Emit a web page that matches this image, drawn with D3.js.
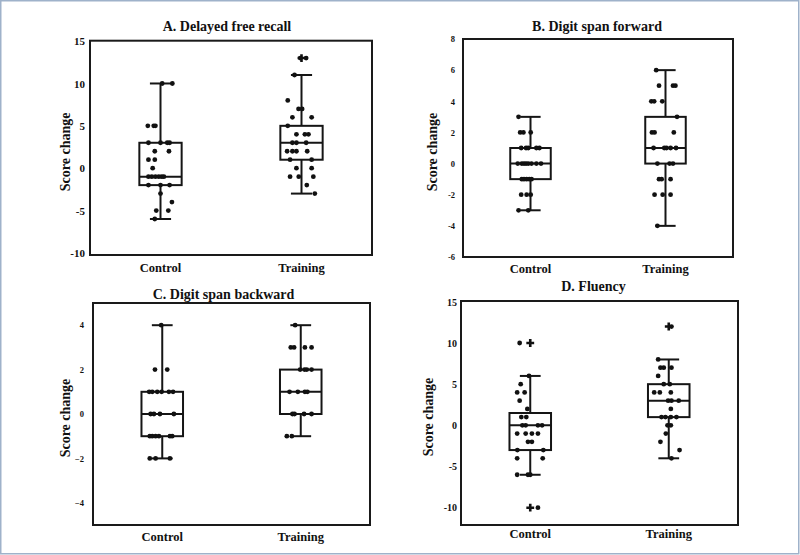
<!DOCTYPE html>
<html>
<head>
<meta charset="utf-8">
<script src="https://cdn.jsdelivr.net/npm/d3@7"></script>
<style>
  body { margin: 0; background: #fff; }
  svg text { font-family: "Liberation Serif", "Times New Roman", serif; font-weight: bold; fill: #111; }
</style>
</head>
<body>
<div id="chart"></div>
<script>
const groups = ["Control", "Training"];

// [score change, horizontal jitter as a fraction of half the box width]
const recallControl = [
  [10, 0.08], [10, 0.56], [5, -0.6], [5, -0.32], [5, -0.24],
  [3, -0.57], [3, 0], [3, 0.32], [3, 0.43], [2, -0.27], [2, 0.4],
  [1, -0.57], [1, -0.27], [0, -0.37],
  [-1, -0.57], [-1, -0.41], [-1, -0.24], [-1, -0.08], [-1, 0.06], [-1, 0.16],
  [-2, -0.57], [-2, 0], [-2, 0.43], [-3, 0], [-4, 0.54], [-5, -0.2], [-5, 0.37], [-6, -0.27]
];
const recallTraining = [
  [13, -0.06], [13, 0.22], [11, -0.33], [8, -0.65], [7, -0.14], [7, 0.03],
  [6, -0.43], [6, 0.48], [5, -0.65], [4, -0.24], [4, 0.16], [4, 0.33],
  [3, -0.43], [3, -0.24], [3, 0.22], [2, -0.68], [2, -0.43], [2, -0.24], [2, 0.27],
  [1, -0.54], [1, 0.48], [0, -0.24], [0, 0.48],
  [-1, -0.54], [-1, -0.13], [-1, 0.56], [-2, 0.25], [-3, 0.63]
];
const forwardControl = [
  [3, -0.59], [2, -0.51], [2, -0.35], [2, 0.01],
  [1, -0.46], [1, -0.22], [1, -0.11], [1, 0.29], [1, 0.44],
  [0, -0.63], [0, -0.43], [0, -0.32], [0, -0.22], [0, -0.11], [0, 0.05], [0, 0.29], [0, 0.52],
  [-1, -0.43], [-1, -0.32], [-1, -0.19], [-1, -0.06], [-1, 0.05],
  [-2, -0.46], [-2, -0.19], [-2, 0.01], [-3, -0.59], [-3, -0.11]
];
const forwardTraining = [
  [6, -0.46], [5, -0.32], [5, 0.37], [5, 0.49], [4, -0.7], [4, -0.56], [4, -0.16],
  [3, 0.57], [2, -0.67], [2, -0.54], [2, 0.41],
  [1, -0.59], [1, -0.06], [1, 0.05], [1, 0.25], [1, 0.52],
  [0, -0.4], [0, 0.2], [0, 0.37], [-1, -0.32], [-1, -0.19], [-1, 0.25],
  [-2, -0.54], [-2, -0.14], [-2, 0.25], [-4, -0.4]
];
const backwardControl = [
  [4, -0.05], [2, -0.35], [2, 0.24],
  [1, -0.63], [1, -0.48], [1, -0.24], [1, -0.03], [1, 0.32], [1, 0.52],
  [0, -0.56], [0, -0.4], [0, -0.11], [0, 0.56],
  [-1, -0.6], [-1, -0.48], [-1, -0.32], [-1, -0.16], [-1, 0.37], [-1, 0.48],
  [-2, -0.6], [-2, -0.32], [-2, 0.37]
];
const backwardTraining = [
  [4, -0.27], [3, -0.48], [3, -0.32], [3, 0.2], [3, 0.52],
  [2, -0.03], [2, 0.18], [2, 0.29], [2, 0.52],
  [1, -0.54], [1, -0.14], [1, 0.2], [1, 0.32],
  [0, -0.4], [0, -0.3], [0, 0.16], [0, 0.52], [-1, -0.67], [-1, -0.43]
];
const fluencyControl = [
  [10, -0.51], [6, -0.06], [5, -0.46], [4, -0.63], [4, -0.27], [3, -0.51], [2, -0.14],
  [1, -0.43], [1, -0.19], [0, -0.38], [0, -0.22], [0, 0.37], [0, 0.57],
  [-1, -0.63], [-1, -0.22], [-1, 0.08], [-1, 0.37], [-2, -0.11], [-2, 0.08],
  [-3, -0.62], [-3, 0.63], [-4, -0.63], [-4, 0.6],
  [-6, -0.63], [-6, -0.11], [-6, 0], [-10, 0.37]
];
const fluencyTraining = [
  [12, 0.13], [8, -0.51], [7, -0.4], [7, -0.24], [7, 0.13], [6, -0.51],
  [5, -0.24], [5, 0.05], [4, -0.7], [4, -0.43], [4, 0.1],
  [3, -0.03], [3, 0.13], [3, 0.48], [2, 0.1],
  [1, -0.35], [1, -0.16], [1, 0.1], [1, 0.37], [0, -0.06], [0, 0.1],
  [-1, -0.14], [-2, -0.4], [-3, 0.52], [-4, 0.13]
];

// box statistics per group: [lower whisker, q1, median, q3, upper whisker]
const recallBoxes = [[-6, -2, -1, 3, 10], [-3, 1, 3, 5, 11]];
const forwardBoxes = [[-3, -1, 0, 1, 3], [-4, 0, 1, 3, 6]];
const backwardBoxes = [[-2, -1, 0, 1, 4], [-1, 0, 1, 2, 4]];
const fluencyBoxes = [[-6, -3, 0, 1.5, 6], [-4, 1, 3, 5, 8]];

// outliers drawn with "+" markers
const recallOutliers = [[], [13]];
const forwardOutliers = [[], []];
const backwardOutliers = [[], []];
const fluencyOutliers = [[10, -10], [12]];

const recallTicks = [-10, -5, 0, 5, 10, 15];
const forwardTicks = [-6, -4, -2, 0, 2, 4, 6, 8];
const backwardTicks = [-4, -2, 0, 2, 4];
const fluencyTicks = [-10, -5, 0, 5, 10, 15];

const hyphen = d => String(d);
const minus = d => String(d).replace("-", "\u2212");

const panels = [
  { title: "A. Delayed free recall", points: [recallControl, recallTraining], boxes: recallBoxes,
    outliers: recallOutliers, ticks: recallTicks, fmt: hyphen, domain: [-10.25, 15.05],
    x0: 90, x1: 372, y0: 40.7, y1: 255, tickFont: 11, tickPad: 5, titleY: 31, titleDx: -4,
    labelX: 65, catPad: 8 },
  { title: "B. Digit span forward", points: [forwardControl, forwardTraining], boxes: forwardBoxes,
    outliers: forwardOutliers, ticks: forwardTicks, fmt: hyphen, domain: [-6, 8],
    x0: 463, x1: 733, y0: 39, y1: 257, tickFont: 8.5, tickPad: 8, titleY: 31, titleDx: -1,
    labelX: 432, catPad: 7 },
  { title: "C. Digit span backward", points: [backwardControl, backwardTraining], boxes: backwardBoxes,
    outliers: backwardOutliers, ticks: backwardTicks, fmt: minus, domain: [-5, 5],
    x0: 93, x1: 370, y0: 303, y1: 525, tickFont: 8.5, tickPad: 9, titleY: 299, titleDx: -8,
    labelX: 65, catPad: 7 },
  { title: "D. Fluency", points: [fluencyControl, fluencyTraining], boxes: fluencyBoxes,
    outliers: fluencyOutliers, ticks: fluencyTicks, fmt: hyphen, domain: [-12.1, 15.1],
    x0: 461, x1: 738, y0: 301, y1: 525, tickFont: 10, tickPad: 4, titleY: 291, titleDx: -6,
    labelX: 428, catPad: 4 }
];

const width = 800;
const height = 555;

const svg = d3.select("#chart")
  .append("svg")
  .attr("width", width)
  .attr("height", height);

// thin page border
svg.append("rect")
  .attr("x", 0.75).attr("y", 0.75)
  .attr("width", 798).attr("height", 553)
  .attr("fill", "none")
  .attr("stroke", "#9fb2ca")
  .attr("stroke-width", 1.5);

panels.forEach(p => {
  const g = svg.append("g");

  const x = d3.scaleBand()
    .domain(groups)
    .range([p.x0, p.x1])
    .padding(0);

  const y = d3.scaleLinear()
    .domain(p.domain)
    .range([p.y1, p.y0]);

  const boxW = x.bandwidth() * 0.3;
  const jitter = d3.scaleLinear().domain([-1, 1]).range([-boxW / 2, boxW / 2]);
  const cx = grp => x(grp) + x.bandwidth() / 2;

  // y axis
  const yAxis = g.append("g")
    .attr("transform", `translate(${p.x0},0)`)
    .call(d3.axisLeft(y).tickValues(p.ticks).tickFormat(p.fmt).tickSize(0).tickPadding(p.tickPad));
  yAxis.select(".domain").remove();
  yAxis.selectAll("text")
    .style("font-size", p.tickFont + "px")
    .attr("font-family", null);

  // x axis
  const xAxis = g.append("g")
    .attr("transform", `translate(0,${p.y1})`)
    .call(d3.axisBottom(x).tickSize(0).tickPadding(p.catPad));
  xAxis.select(".domain").remove();
  xAxis.selectAll("text")
    .style("font-size", "12.5px")
    .attr("font-family", null);

  // boxes and whiskers
  const box = g.selectAll(".box")
    .data(groups.map((grp, i) => ({ grp, s: p.boxes[i] })))
    .join("g")
    .attr("class", "box")
    .attr("stroke", "#151515")
    .attr("stroke-width", 2)
    .attr("fill", "none");

  box.append("line")
    .attr("x1", d => cx(d.grp)).attr("x2", d => cx(d.grp))
    .attr("y1", d => y(d.s[0])).attr("y2", d => y(d.s[1]));
  box.append("line")
    .attr("x1", d => cx(d.grp)).attr("x2", d => cx(d.grp))
    .attr("y1", d => y(d.s[3])).attr("y2", d => y(d.s[4]));
  box.append("line")
    .attr("x1", d => cx(d.grp) - boxW / 4).attr("x2", d => cx(d.grp) + boxW / 4)
    .attr("y1", d => y(d.s[0])).attr("y2", d => y(d.s[0]));
  box.append("line")
    .attr("x1", d => cx(d.grp) - boxW / 4).attr("x2", d => cx(d.grp) + boxW / 4)
    .attr("y1", d => y(d.s[4])).attr("y2", d => y(d.s[4]));
  box.append("rect")
    .attr("x", d => cx(d.grp) - boxW / 2)
    .attr("y", d => y(d.s[3]))
    .attr("width", boxW)
    .attr("height", d => y(d.s[1]) - y(d.s[3]));
  box.append("line")
    .attr("x1", d => cx(d.grp) - boxW / 2).attr("x2", d => cx(d.grp) + boxW / 2)
    .attr("y1", d => y(d.s[2])).attr("y2", d => y(d.s[2]));

  // outlier markers
  const outs = [];
  groups.forEach((grp, i) => p.outliers[i].forEach(v => outs.push({ grp, v })));
  g.selectAll(".outlier")
    .data(outs)
    .join("path")
    .attr("class", "outlier")
    .attr("d", d3.symbol(d3.symbolCross, 34))
    .attr("transform", d => `translate(${cx(d.grp)},${y(d.v)})`)
    .attr("fill", "#111");

  // jittered points
  const pts = [];
  groups.forEach((grp, i) => p.points[i].forEach(([v, j]) => pts.push({ grp, v, j })));
  g.selectAll(".pt")
    .data(pts)
    .join("circle")
    .attr("class", "pt")
    .attr("cx", d => cx(d.grp) + jitter(d.j))
    .attr("cy", d => y(d.v))
    .attr("r", 2.4)
    .attr("fill", "#111");

  // frame
  g.append("rect")
    .attr("x", p.x0).attr("y", p.y0)
    .attr("width", p.x1 - p.x0).attr("height", p.y1 - p.y0)
    .attr("fill", "none")
    .attr("stroke", "#1a1a1a")
    .attr("stroke-width", 2);

  // title
  g.append("text")
    .attr("x", (p.x0 + p.x1) / 2 + p.titleDx)
    .attr("y", p.titleY)
    .attr("text-anchor", "middle")
    .style("font-size", "14px")
    .text(p.title);

  // y label
  g.append("text")
    .attr("transform", `translate(${p.labelX},${(p.y0 + p.y1) / 2 + 4}) rotate(-90)`)
    .attr("text-anchor", "middle")
    .attr("dy", "0.35em")
    .style("font-size", "14px")
    .text("Score change");
});
</script>
</body>
</html>
